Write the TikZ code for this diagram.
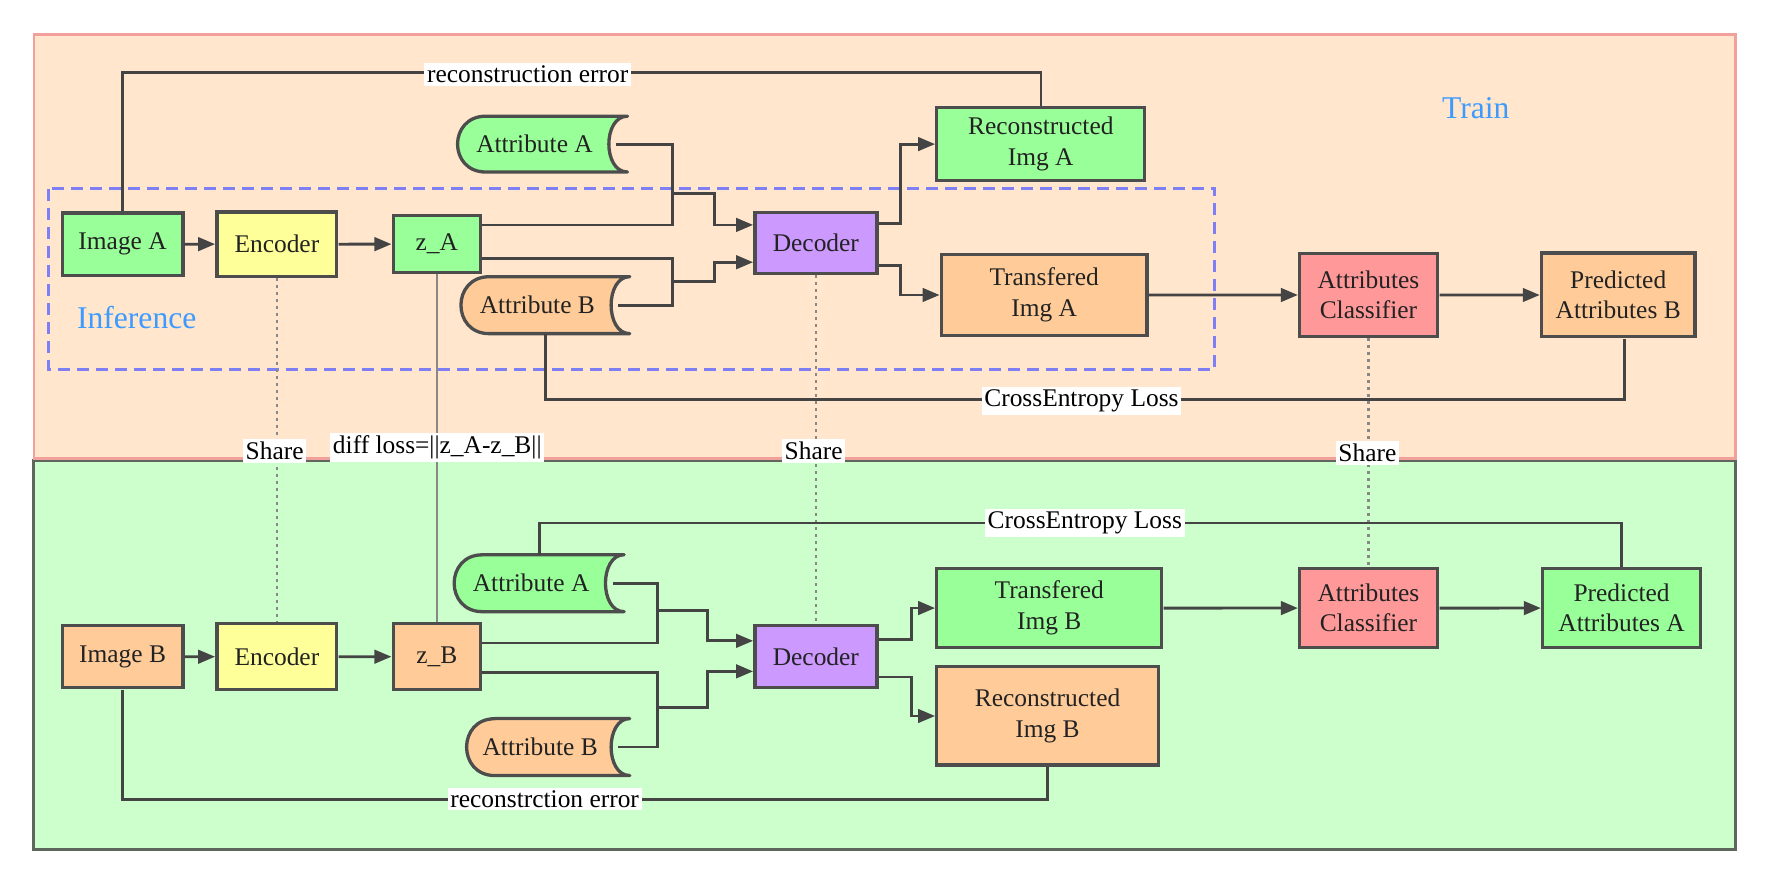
\documentclass[tikz,border=0pt]{standalone}
\usepackage{fontspec}
\setmainfont{Liberation Serif}
\usetikzlibrary{arrows.meta,calc}
\definecolor{trainfill}{HTML}{FFE6CC}
\definecolor{trainborder}{HTML}{F2A09C}
\definecolor{testfill}{HTML}{CCFFCC}
\definecolor{testborder}{HTML}{5E665E}
\definecolor{cgreen}{HTML}{99FF99}
\definecolor{cyellow}{HTML}{FFFF99}
\definecolor{cpurple}{HTML}{CC99FF}
\definecolor{corange}{HTML}{FFCC99}
\definecolor{cred}{HTML}{FF9999}
\definecolor{nodeborder}{HTML}{4D4D4D}
\definecolor{linecol}{HTML}{444444}
\definecolor{txt}{HTML}{222222}
\definecolor{titleblue}{HTML}{3D9AFF}
\definecolor{dashblue}{HTML}{7F7FF5}
\definecolor{sharegray}{HTML}{888888}
\pgfdeclarelayer{back}
\pgfdeclarelayer{mid}
\pgfsetlayers{back,mid,main}
\newcommand\storeshape[2]{%
  \filldraw[draw=nodeborder,line width=3.3pt,fill=#2,line join=round]
    ([xshift=25pt]#1.north west) -- (#1.north east)
    .. controls ([xshift=-22pt]#1.north east) and ([xshift=-22pt]#1.south east) .. (#1.south east)
    -- ([xshift=25pt]#1.south west)
    .. controls ([xshift=-8.3pt]#1.south west) and ([xshift=-8.3pt]#1.north west) .. cycle;}
\begin{document}
\begin{tikzpicture}[x=1pt,y=-1pt,scale=1.13,
  every node/.style={transform shape,font=\fontsize{22.5}{27}\selectfont,text=txt},
  box/.style={draw=nodeborder,line width=3.3pt,align=center,inner sep=0pt},
  store/.style={draw=none,inner sep=0pt,minimum width=150pt,minimum height=50pt},
  line/.style={draw=linecol,line width=2.8pt},
  arr/.style={line,-{Triangle[length=17pt,width=13.5pt]}},
  share/.style={draw=sharegray,line width=2.8pt,dash pattern=on 3pt off 4pt},
  zline/.style={draw=sharegray,line width=2.2pt},
  lbl/.style={fill=white,inner sep=2.5pt,text=black},
  title/.style={font=\fontsize{28}{32}\selectfont,text=titleblue}]
\useasboundingbox (0,0) rectangle (1562.8,780.5);
\begin{pgfonlayer}{back}
  \filldraw[fill=testfill,draw=testborder,line width=3pt] (30,407.5) rectangle (1536,751.5);
  \filldraw[fill=trainfill,draw=trainborder,line width=2.8pt] (30,30.5) rectangle (1536,405.5);
\end{pgfonlayer}
\begin{pgfonlayer}{mid}
  \draw[draw=dashblue,line width=3.3pt,dash pattern=on 12pt off 7pt] (43,167) rectangle (1075,327);
\end{pgfonlayer}
% ---- top nodes
\node[box,fill=cgreen,minimum width=107pt,minimum height=55pt] (imA) at (108.5,216) {Image A};
\node[box,fill=cyellow,minimum width=106pt,minimum height=57pt] (encA) at (245,216) {Encoder};
\node[box,fill=cgreen,minimum width=77pt,minimum height=50pt] (zA) at (386.5,216) {z\_A};
\node[store,minimum width=150pt,minimum height=49pt] (attAt) at (480,127.5) {\hspace*{-14pt}Attribute A};
\node[store,minimum width=149pt,minimum height=50pt] (attBt) at (482.5,270) {\hspace*{-14pt}Attribute B};
\node[box,fill=cpurple,minimum width=108pt,minimum height=54pt] (decT) at (722,215) {Decoder};
\node[box,fill=cgreen,minimum width=184pt,minimum height=65pt] (recA) at (921,127.5) {Reconstructed\\Img A};
\node[box,fill=corange,minimum width=182pt,minimum height=72pt] (trA) at (924,261) {Transfered\\Img A};
\node[box,fill=cred,minimum width=122pt,minimum height=73pt] (clsT) at (1211,261) {Attributes\\Classifier};
\node[box,fill=corange,minimum width=136pt,minimum height=74pt] (predB) at (1432,261) {Predicted\\Attributes B};
% ---- bottom nodes
\node[box,fill=corange,minimum width=107pt,minimum height=55pt] (imB) at (108.5,581) {Image B};
\node[box,fill=cyellow,minimum width=106pt,minimum height=58pt] (encB) at (245,581) {Encoder};
\node[box,fill=corange,minimum width=77pt,minimum height=58pt] (zB) at (386.5,581) {z\_B};
\node[store,minimum width=150pt,minimum height=50pt] (attAb) at (477,516) {\hspace*{-14pt}Attribute A};
\node[store,minimum width=144pt,minimum height=50pt] (attBb) at (485,661) {\hspace*{-14pt}Attribute B};
\node[box,fill=cpurple,minimum width=108pt,minimum height=55pt] (decB) at (722,581) {Decoder};
\node[box,fill=cgreen,minimum width=199pt,minimum height=70pt] (trB) at (928.5,538) {Transfered\\Img B};
\node[box,fill=corange,minimum width=196pt,minimum height=87pt] (recB) at (927,633.5) {Reconstructed\\Img B};
\node[box,fill=cred,minimum width=122pt,minimum height=70pt] (clsB) at (1211,538) {Attributes\\Classifier};
\node[box,fill=cgreen,minimum width=140pt,minimum height=70pt] (predA) at (1435,538) {Predicted\\Attributes A};
\begin{pgfonlayer}{mid}
  \storeshape{attAt}{cgreen}
  \storeshape{attBt}{corange}
  \storeshape{attAb}{cgreen}
  \storeshape{attBb}{corange}
\end{pgfonlayer}
\node[title] (train) at (1306,96) {Train};
\node[title] (inf) at (121,281) {Inference};
% ---- share links
\draw[share] (encA.south) -- (encB.north);
\draw[zline] (zA.south) -- (zB.north);
\draw[share] (decT.south) -- (decB.north);
\draw[share] (clsT.south) -- (clsB.north);
% ---- top connectors
\draw[arr] (imA) -- (encA);
\draw[arr] (encA) -- (zA);
\coordinate (tj1) at (595,171);
\draw[line] ([xshift=-10pt]attAt.east) -| (tj1);
\draw[line] ([yshift=17pt]zA.east) -| (tj1);
\draw[arr] (tj1) -- ++(37,0) |- ([yshift=16pt]decT.west);
\coordinate (tj2) at (595,249);
\draw[line] ([yshift=-13pt]zA.east) -| (tj2);
\draw[line] ([xshift=-10pt]attBt.east) -| (tj2);
\draw[arr] (tj2) -- ++(37,0) |- ([yshift=-17pt]decT.west);
\draw[arr] ([yshift=17pt]decT.east) -- ++(19,0) |- (recA.west);
\draw[arr] ([yshift=-20pt]decT.east) -- ++(19,0) |- (trA.west);
\draw[arr] (trA) -- (clsT);
\draw[arr] (clsT) -- (predB);
\draw[line] (imA.north) -- ++(0,-123) -| (recA.north);
\draw[line] (attBt.south) -- ++(0,58) -| ([xshift=5pt]predB.south);
% ---- bottom connectors
\draw[arr] (imB) -- (encB);
\draw[arr] (encB) -- (zB);
\coordinate (bj1) at (582,540);
\draw[line] ([xshift=-10pt]attAb.east) -| (bj1);
\draw[line] ([yshift=12pt]zB.east) -| (bj1);
\draw[arr] (bj1) -- ++(44,0) |- ([yshift=14pt]decB.west);
\coordinate (bj2) at (582,626);
\draw[line] ([yshift=-14pt]zB.east) -| (bj2);
\draw[line] ([xshift=-10pt]attBb.east) -| (bj2);
\draw[arr] (bj2) -- ++(44,0) |- ([yshift=-13pt]decB.west);
\draw[arr] ([yshift=15pt]decB.east) -- ++(29,0) |- (trB.west);
\draw[arr] ([yshift=-18pt]decB.east) -- ++(29,0) |- (recB.west);
\draw[arr] (trB) -- (clsB);
\draw[arr] (clsB) -- (predA);
\draw[line] (attAb.north) -- ++(0,-28) -| (predA.north);
\draw[line] (imB.south) -- ++(0,97) -| (recB.south);
% ---- labels
\node[lbl] (l1) at (467,66) {reconstruction error};
\node[lbl] (l2) at (957,355) {CrossEntropy Loss};
\node[lbl] (l3) at (243,399) {Share};
\node[lbl] (l4) at (387,396) {diff loss=||z\_A-z\_B||};
\node[lbl] (l5) at (720,399) {Share};
\node[lbl] (l6) at (1210,401) {Share};
\node[lbl] (l7) at (960,463) {CrossEntropy Loss};
\node[lbl] (l8) at (482,707) {reconstrction error};
\end{tikzpicture}
\end{document}
